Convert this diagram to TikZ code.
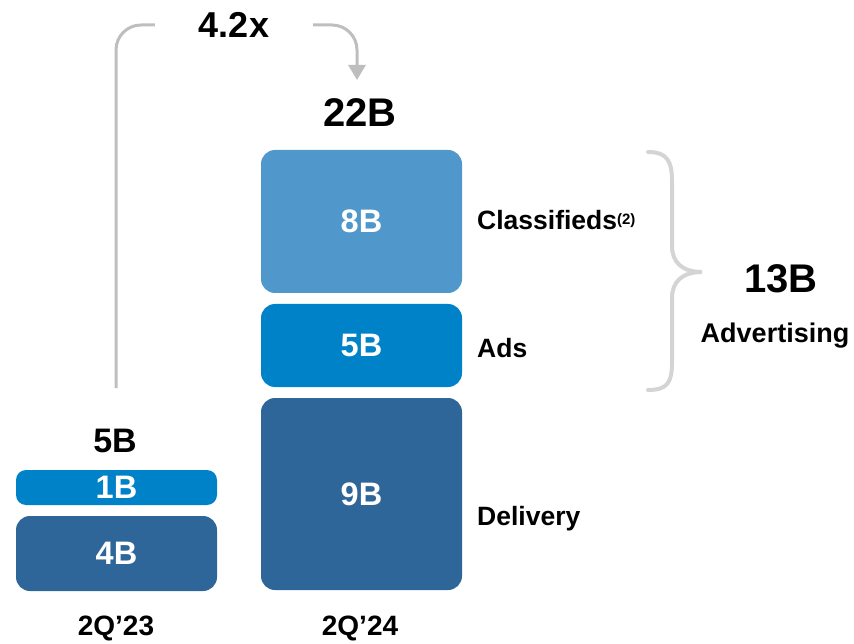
\documentclass[tikz,border=0pt]{standalone}
\usepackage{fontspec}
\setmainfont{Liberation Sans}
\usetikzlibrary{arrows.meta}

\definecolor{clsblue}{RGB}{80,152,204}
\definecolor{adsblue}{RGB}{0,130,200}
\definecolor{dlvblue}{RGB}{46,102,153}
\definecolor{linegray}{RGB}{190,190,190}
\definecolor{bracegray}{RGB}{212,212,212}

\tikzset{
    bar/.style={rounded corners=14pt, minimum width=201pt, inner sep=0pt, text=white,
        font=\fontsize{32.5}{33}\selectfont\bfseries},
    total/.style={font=\fontsize{40}{40}\selectfont\bfseries},
    seg/.style={anchor=base west, inner sep=0pt, font=\fontsize{26.5}{27}\selectfont\bfseries},
    period/.style={font=\fontsize{28}{28}\selectfont\bfseries},
    flow/.style={draw=linegray, line width=3pt, rounded corners=25pt}
}

\begin{document}
\begin{tikzpicture}[x=1pt, y=-1pt]
    \useasboundingbox (0,0) rectangle (854,644);

    % Draw the 2Q'23 bars
    \node[bar, fill=adsblue, minimum height=35pt, rounded corners=10pt] (old1) at (116.5,487.5) {1B};
    \node[bar, fill=dlvblue, minimum height=75pt] (old4) at (116.5,553.5) {4B};

    % Draw the 2Q'24 bars
    \node[bar, fill=clsblue, minimum height=143pt] (cls) at (361.5,221.5) {8B};
    \node[bar, fill=adsblue, minimum height=83pt] (ads) at (361.5,345.5) {5B};
    \node[bar, fill=dlvblue, minimum height=192pt] (dlv) at (361.5,494) {9B};

    % Totals and periods
    \node[total, font=\fontsize{34}{34}\selectfont\bfseries] (tot23) at (115,440.5) {5B};
    \node[total] (tot24) at (360,112.5) {22B};
    \node[period] (p23) at (116,628) {2Q’23};
    \node[period] (p24) at (360,628) {2Q’24};

    % Segment labels
    \node[seg] (lcls) at (477,230) {Classifieds\raisebox{5.5pt}{\fontsize{15}{15}\selectfont(2)}};
    \node[seg] (lads) at (477,357) {Ads};
    \node[seg] (ldlv) at (477,525) {Delivery};

    % Brace over classifieds and ads
    \draw[bracegray, line width=4pt, line cap=round]
        (648,152) .. controls (668,152) and (672,162) .. (672,182) -- (672,246)
        .. controls (672,262) and (682,272) .. (702,272)
        .. controls (682,272) and (672,282) .. (672,298) -- (672,362)
        .. controls (672,382) and (668,390) .. (648,390);
    \node[total] (tadv) at (781,279) {13B};
    \node[seg, anchor=base, font=\fontsize{27}{27}\selectfont\bfseries] (ladv) at (775,342) {Advertising};

    % Growth arrow
    \node[font=\fontsize{36}{36}\selectfont\bfseries, inner xsep=44pt] (ratio) at (234,25) {4.2x};
    \coordinate (up) at (116,388);
    \coordinate (down) at (357,80);
    \draw[flow] (up) |- (ratio.west);
    \draw[flow, -{Triangle[width=17pt, length=15pt]}] (ratio.east) -| (down);
\end{tikzpicture}
\end{document}
